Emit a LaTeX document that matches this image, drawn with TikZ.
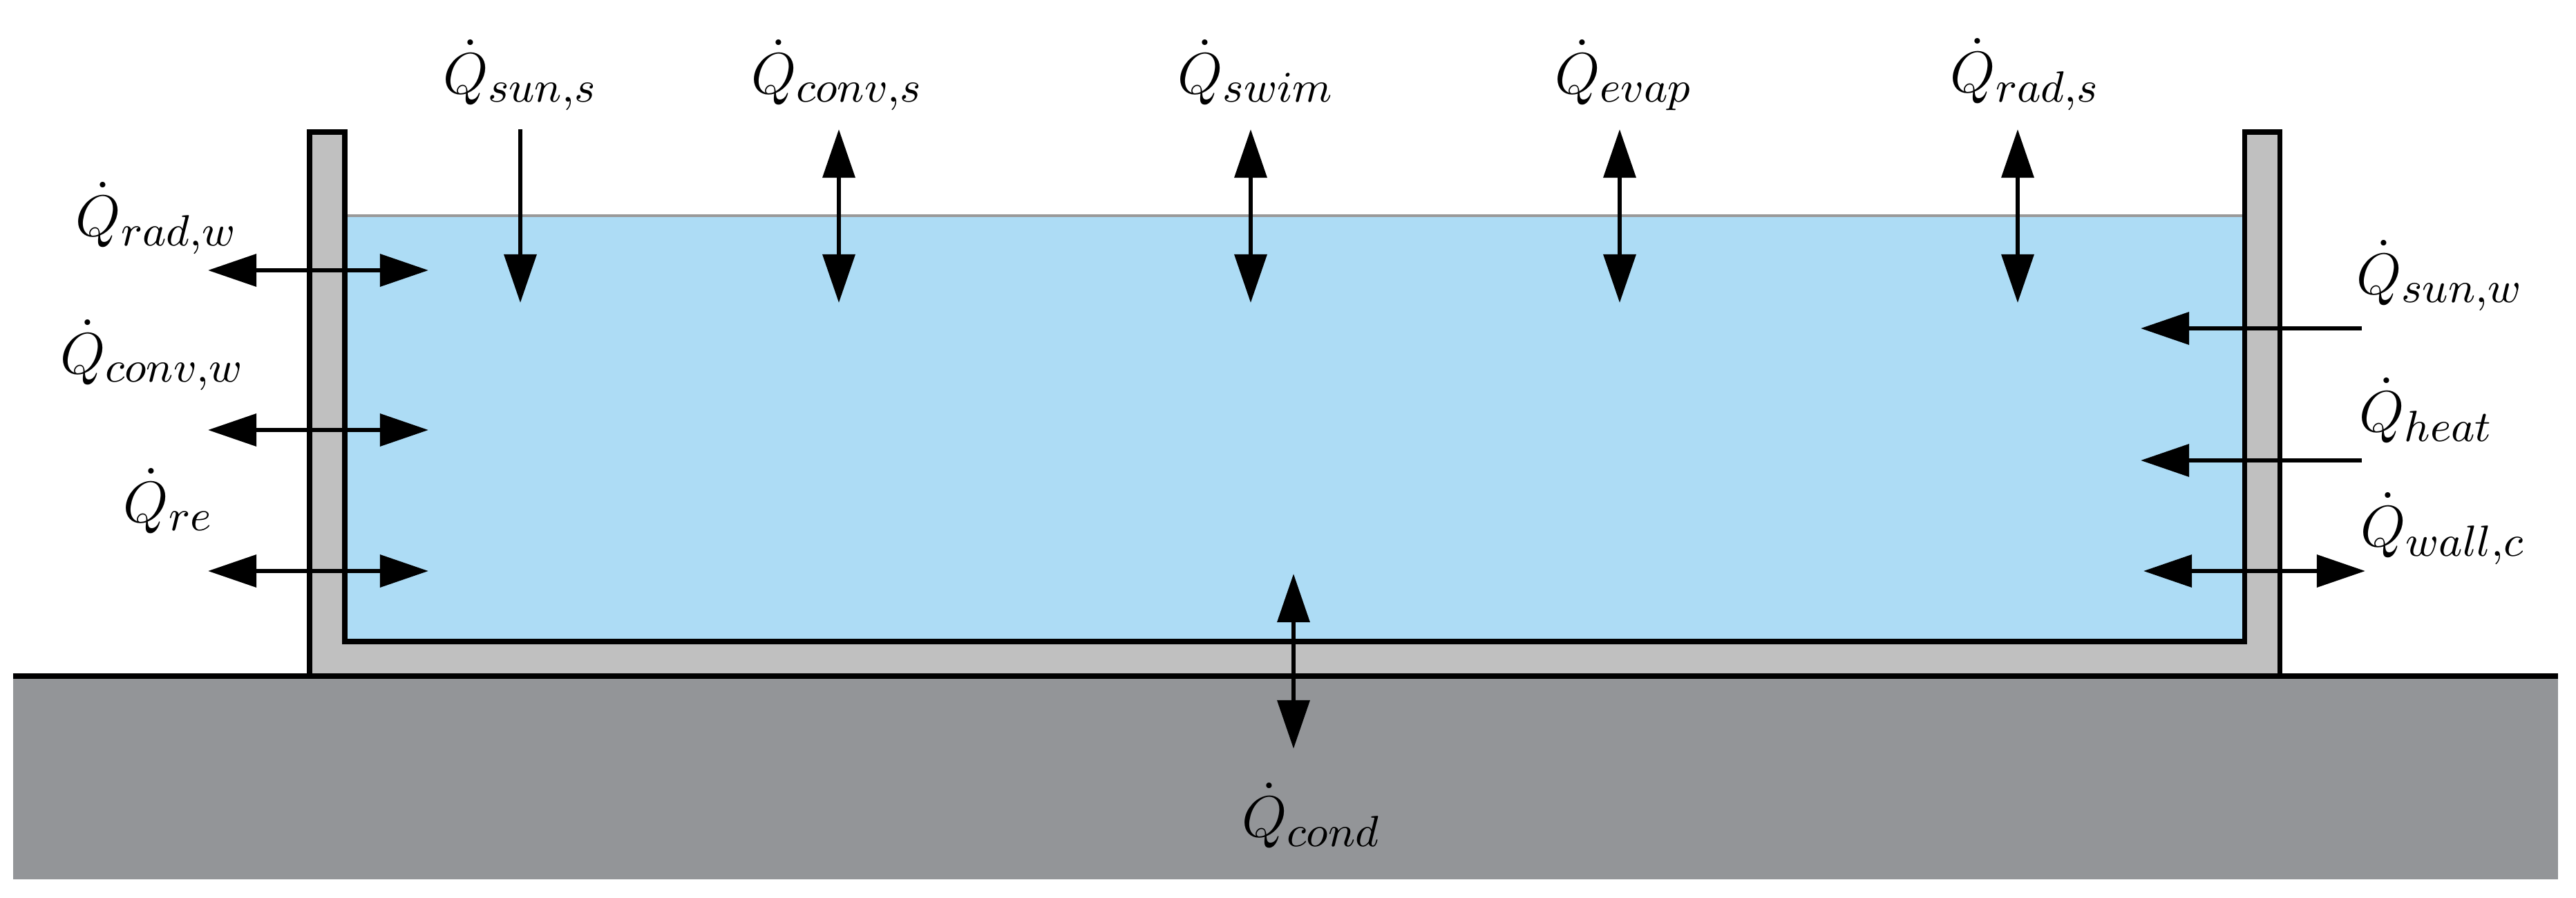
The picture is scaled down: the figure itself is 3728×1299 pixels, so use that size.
\documentclass[tikz,border=0pt]{standalone}
\usepackage{amsmath,amssymb}
\usepackage{xcolor}
\usepackage{tikz}
\usetikzlibrary{arrows.meta}

\definecolor{poolwater}{HTML}{ADDCF5}
\definecolor{shellgray}{HTML}{C0C0C0}
\definecolor{soilgray}{HTML}{939598}

\tikzset{
  oneway/.style={line width=0.85pt, -{Triangle[length=10pt,width=6.6pt]}},
  twoway/.style={line width=0.85pt, {Triangle[length=10pt,width=6.6pt]}-{Triangle[length=10pt,width=6.6pt]}},
  qlabel/.style={font=\fontsize{13}{15}\selectfont, inner sep=0pt}
}

\begin{document}
\begin{tikzpicture}[x=0.005cm, y=-0.005cm]
    \useasboundingbox (0,0) rectangle (3728,1299);

    % Ground
    \fill[soilgray] (19,978) rectangle (3702,1272);

    % Water
    \fill[poolwater] (499,312) rectangle (3248,928);
    \draw[gray!80, line width=0.6pt] (499,312) -- (3248,312);

    % Pool shell
    \draw[fill=shellgray, line width=1pt] (448,191) -- (448,978) -- (3299,978)
        -- (3299,191) -- (3248,191) -- (3248,928) -- (499,928) -- (499,191) -- cycle;
    \draw[line width=1.2pt] (19,978) -- (3702,978);

    % Surface fluxes
    \foreach \name/\x in {suns/753, convs/1214, swim/1810, evap/2344, rads/2920} {
        \coordinate (\name-top) at (\x,187);
        \coordinate (\name-bot) at (\x,438);
    }
    \draw[oneway] (suns-top) -- (suns-bot);
    \foreach \name in {convs, swim, evap, rads}
        \draw[twoway] (\name-top) -- (\name-bot);

    \node[qlabel, anchor=base] (qsuns) at (753,135) {$\dot{Q}_{sun,s}$};
    \node[qlabel, anchor=base] (qconvs) at (1212,135) {$\dot{Q}_{conv,s}$};
    \node[qlabel, anchor=base] (qswim) at (1818,135) {$\dot{Q}_{swim}$};
    \node[qlabel, anchor=base] (qevap) at (2350,135) {$\dot{Q}_{evap}$};
    \node[qlabel, anchor=base] (qrads) at (2931,133) {$\dot{Q}_{rad,s}$};

    % Left wall fluxes
    \foreach \name/\y in {radw/391, convw/622, re/826} {
        \coordinate (\name-out) at (301,\y);
        \coordinate (\name-in) at (620,\y);
        \draw[twoway] (\name-out) -- (\name-in);
    }
    \node[qlabel, anchor=base] (qradw) at (227,341) {$\dot{Q}_{rad,w}$};
    \node[qlabel, anchor=base] (qconvw) at (221,540) {$\dot{Q}_{conv,w}$};
    \node[qlabel, anchor=base] (qre) at (244,755) {$\dot{Q}_{re}$};

    % Right wall fluxes
    \coordinate (sunw-out) at (3418,475);
    \coordinate (sunw-in) at (3098,475);
    \coordinate (heat-out) at (3418,666);
    \coordinate (heat-in) at (3098,666);
    \coordinate (wallc-in) at (3102,826);
    \coordinate (wallc-out) at (3423,826);
    \draw[oneway] (sunw-out) -- (sunw-in);
    \draw[oneway] (heat-out) -- (heat-in);
    \draw[twoway] (wallc-in) -- (wallc-out);
    \node[qlabel, anchor=base west] (qsunw) at (3409,425) {$\dot{Q}_{sun,w}$};
    \node[qlabel, anchor=base west] (qheat) at (3413,624) {$\dot{Q}_{heat}$};
    \node[qlabel, anchor=base west] (qwallc) at (3415,790) {$\dot{Q}_{wall,c}$};

    % Ground conduction
    \coordinate (cond-top) at (1872,830);
    \coordinate (cond-bot) at (1872,1083);
    \draw[twoway] (cond-top) -- (cond-bot);
    \node[qlabel, anchor=base] (qcond) at (1898,1210) {$\dot{Q}_{cond}$};
\end{tikzpicture}
\end{document}
